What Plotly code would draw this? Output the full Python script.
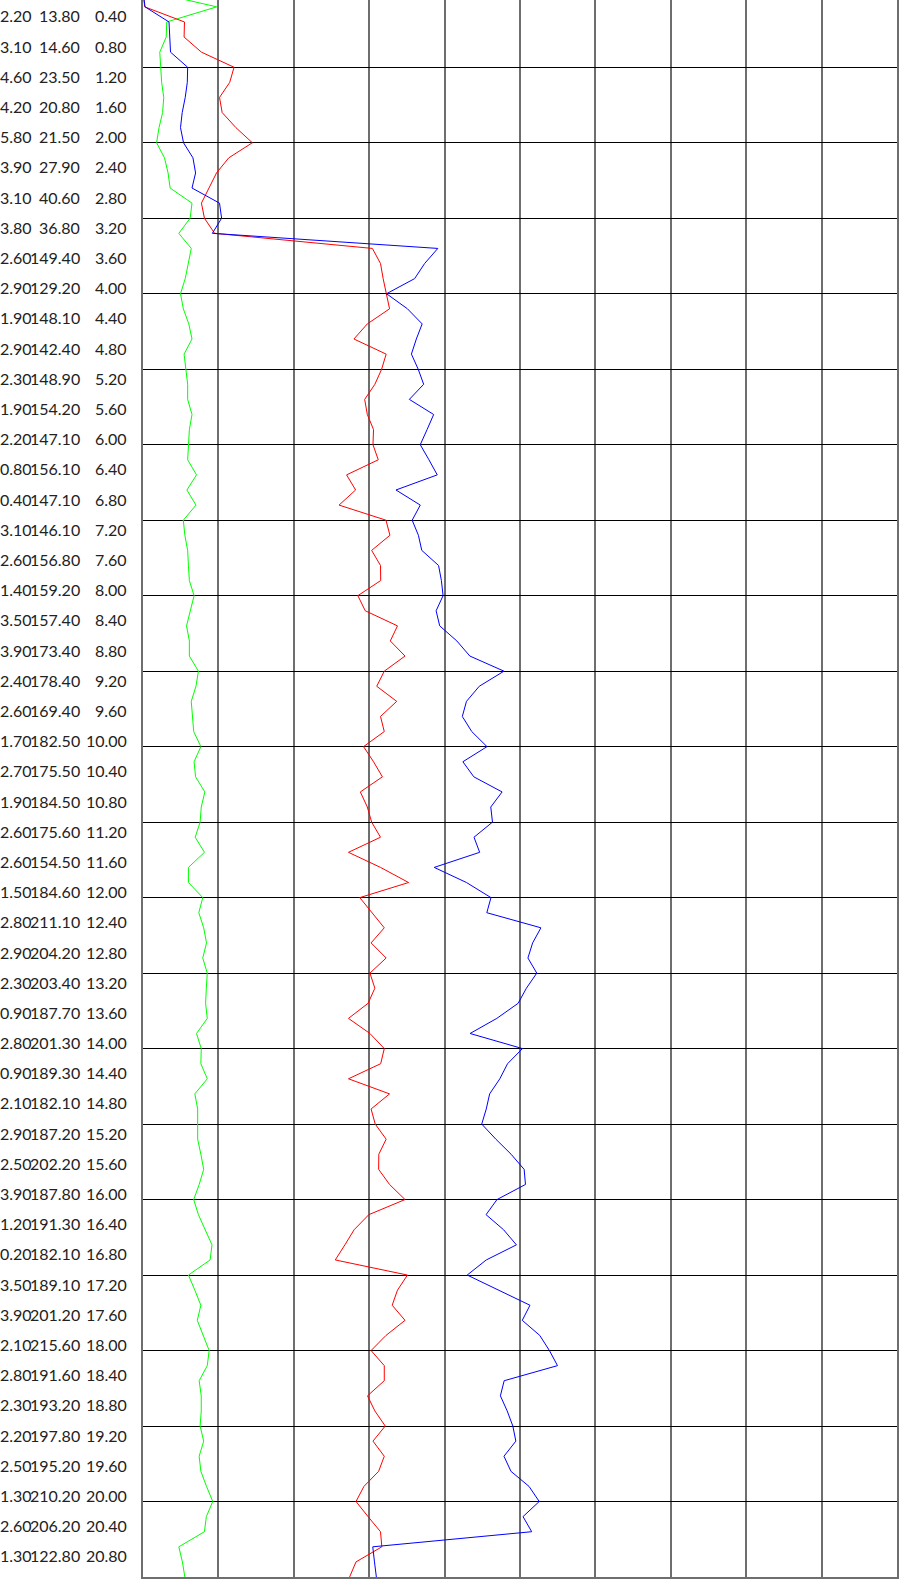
import plotly.graph_objects as go

# depth of every sampled vertex (m)
depth = [0.0, 0.2, 0.4, 0.6, 0.8, 1.0, 1.2, 1.4, 1.6, 1.8, 2.0, 2.2, 2.4, 2.6, 2.8, 3.0,
         3.2, 3.4, 3.6, 3.8, 4.0, 4.2, 4.4, 4.6, 4.8, 5.0, 5.2, 5.4, 5.6, 5.8, 6.0, 6.2,
         6.4, 6.6, 6.8, 7.0, 7.2, 7.4, 7.6, 7.8, 8.0, 8.2, 8.4, 8.6, 8.8, 9.0, 9.2, 9.4,
         9.6, 9.8, 10.0, 10.2, 10.4, 10.6, 10.8, 11.0, 11.2, 11.4, 11.6, 11.8, 12.0, 12.2,
         12.4, 12.6, 12.8, 13.0, 13.2, 13.4, 13.6, 13.8, 14.0, 14.2, 14.4, 14.6, 14.8, 15.0,
         15.2, 15.4, 15.6, 15.8, 16.0, 16.2, 16.4, 16.6, 16.8, 17.0, 17.2, 17.4, 17.6, 17.8,
         18.0, 18.2, 18.4, 18.6, 18.8, 19.0, 19.2, 19.4, 19.6, 19.8, 20.0, 20.2, 20.4, 20.6,
         20.8, 21.0]

blue = [0.0, 1.1, 13.8, 14.2, 14.6, 23.7, 23.5, 22.4, 20.8, 19.9, 21.5, 26.5, 27.9, 26.0,
        40.6, 41.7, 36.8, 156.4, 149.4, 144.1, 129.2, 140.3, 148.1, 145.0, 142.4, 146.0,
        148.9, 141.3, 154.2, 150.7, 147.1, 151.7, 156.1, 134.2, 147.1, 142.8, 146.1, 147.9,
        156.8, 158.3, 159.2, 155.5, 157.4, 166.5, 173.4, 191.5, 178.4, 171.6, 169.4, 174.4,
        182.5, 169.7, 175.5, 190.5, 184.5, 185.4, 175.6, 178.6, 154.5, 171.6, 184.6, 182.4,
        211.1, 206.7, 204.2, 208.9, 203.4, 199.0, 187.7, 173.5, 201.3, 193.4, 189.3, 183.9,
        182.1, 179.7, 187.2, 195.3, 202.2, 202.9, 187.8, 182.0, 191.3, 198.1, 182.1, 172.0,
        189.1, 205.3, 201.2, 210.5, 215.6, 219.9, 191.6, 189.6, 193.2, 196.2, 197.8, 191.5,
        195.2, 204.8, 210.2, 201.6, 206.2, 121.9, 122.8, 123.8]

red = [0.0, 0.9, 22.0, 21.8, 31.0, 48.3, 46.0, 40.6, 42.0, 49.3, 58.0, 45.5, 39.0, 35.1,
       31.0, 32.6, 38.0, 121.7, 126.0, 127.4, 129.0, 130.8, 119.0, 111.9, 129.0, 126.6,
       123.0, 117.6, 119.0, 122.3, 122.0, 124.8, 108.0, 112.8, 104.0, 128.9, 131.0, 121.3,
       126.0, 126.1, 114.0, 117.9, 135.0, 131.2, 139.0, 128.0, 124.0, 134.6, 126.0, 128.0,
       117.0, 122.3, 127.0, 115.3, 119.0, 121.3, 126.0, 109.0, 126.0, 140.9, 115.0, 121.3,
       128.0, 121.0, 129.0, 120.4, 123.0, 119.4, 109.0, 120.4, 128.0, 126.1, 109.0, 130.8,
       121.0, 123.2, 129.0, 125.1, 125.0, 130.8, 139.0, 119.8, 112.0, 107.1, 102.0, 140.3,
       135.0, 132.2, 139.0, 128.9, 121.0, 128.0, 128.0, 119.1, 123.0, 128.5, 122.0, 128.0,
       125.0, 117.2, 113.0, 119.4, 126.0, 126.7, 113.0, 109.6]

green = [4.3, 39.1, 12.6, 12.3, 8.9, 9.3, 9.9, 11.0, 10.4, 8.5, 7.2, 11.4, 13.3, 14.4,
         26.0, 25.0, 19.0, 25.6, 24.1, 22.4, 19.9, 21.4, 24.3, 26.0, 21.8, 22.8, 23.7, 23.7,
         26.0, 24.6, 24.1, 23.7, 28.4, 23.3, 28.1, 21.4, 22.2, 23.7, 24.1, 24.6, 27.1, 25.0,
         23.1, 24.6, 24.6, 29.4, 28.1, 25.6, 26.2, 26.9, 30.7, 27.1, 27.9, 32.8, 30.9, 30.3,
         27.7, 32.6, 24.1, 24.1, 31.7, 29.6, 32.2, 33.7, 31.7, 34.1, 33.6, 33.2, 34.1, 28.4,
         30.9, 30.7, 34.1, 27.5, 29.0, 29.0, 29.0, 30.7, 32.2, 29.8, 26.9, 29.4, 33.2, 36.6,
         35.6, 24.1, 27.5, 30.7, 28.8, 31.9, 35.1, 34.1, 29.8, 30.9, 30.9, 30.3, 32.2, 29.8,
         30.7, 33.7, 37.0, 33.6, 32.6, 19.0, 20.9, 22.2]

# text table at the left
label_depth = ["0.40", "0.80", "1.20", "1.60", "2.00", "2.40", "2.80", "3.20", "3.60", "4.00",
               "4.40", "4.80", "5.20", "5.60", "6.00", "6.40", "6.80", "7.20", "7.60", "8.00",
               "8.40", "8.80", "9.20", "9.60", "10.00", "10.40", "10.80", "11.20", "11.60",
               "12.00", "12.40", "12.80", "13.20", "13.60", "14.00", "14.40", "14.80", "15.20",
               "15.60", "16.00", "16.40", "16.80", "17.20", "17.60", "18.00", "18.40", "18.80",
               "19.20", "19.60", "20.00", "20.40", "20.80"]
label_col1 = ["2.20", "3.10", "4.60", "4.20", "5.80", "3.90", "3.10", "3.80", "2.60", "2.90",
              "1.90", "2.90", "2.30", "1.90", "2.20", "0.80", "0.40", "3.10", "2.60", "1.40",
              "3.50", "3.90", "2.40", "2.60", "1.70", "2.70", "1.90", "2.60", "2.60", "1.50",
              "2.80", "2.90", "2.30", "0.90", "2.80", "0.90", "2.10", "2.90", "2.50", "3.90",
              "1.20", "0.20", "3.50", "3.90", "2.10", "2.80", "2.30", "2.20", "2.50", "1.30",
              "2.60", "1.30"]
label_col2 = ["13.80", "14.60", "23.50", "20.80", "21.50", "27.90", "40.60", "36.80", "149.40",
              "129.20", "148.10", "142.40", "148.90", "154.20", "147.10", "156.10", "147.10",
              "146.10", "156.80", "159.20", "157.40", "173.40", "178.40", "169.40", "182.50",
              "175.50", "184.50", "175.60", "154.50", "184.60", "211.10", "204.20", "203.40",
              "187.70", "201.30", "189.30", "182.10", "187.20", "202.20", "187.80", "191.30",
              "182.10", "189.10", "201.20", "215.60", "191.60", "193.20", "197.80", "195.20",
              "210.20", "206.20", "122.80"]

W, H = 900, 1591
ML, MR, MT, MB = 143, 3, 0, 14
PW = W - ML - MR

fig = go.Figure()
for vals, col in [(green, "#00ff00"), (red, "#ff0000"), (blue, "#0000ff")]:
    fig.add_trace(go.Scatter(x=vals, y=depth, mode="lines",
                             line=dict(color=col, width=1), hoverinfo="skip",
                             showlegend=False, cliponaxis=True))

font = dict(family="Lato, 'Liberation Sans', sans-serif", size=16, color="#222222")
col_right_px = [33, 80.5, 128]
anns = []
for i, dl in enumerate(label_depth):
    yv = float(dl)
    for txt, px in zip([label_col1[i], label_col2[i], dl], col_right_px):
        anns.append(dict(x=(px - ML) / PW, xref="paper", y=yv, yref="y",
                         text=txt, showarrow=False, xanchor="right", yanchor="middle",
                         yshift=6, font=font, borderpad=0))

fig.update_layout(
    width=W, height=H, margin=dict(l=ML, r=MR, t=MT, b=MB, pad=0),
    paper_bgcolor="white", plot_bgcolor="white",
    annotations=anns,
    xaxis=dict(range=[0, 400], dtick=40, tick0=0, showgrid=True,
               gridcolor="#6e6e6e", gridwidth=2, zeroline=False,
               showticklabels=False, ticks="", showline=True,
               linecolor="#6e6e6e", linewidth=2, mirror=False),
    yaxis=dict(range=[21, 0.109], dtick=1, tick0=0, showgrid=True,
               gridcolor="#000000", gridwidth=1, zeroline=False,
               showticklabels=False, ticks="", showline=True,
               linecolor="#6e6e6e", linewidth=2, mirror=True),
)

fig.write_html("out.html", config={"displayModeBar": False},
               post_script="document.body.style.margin='0';document.body.style.overflow='hidden';")
